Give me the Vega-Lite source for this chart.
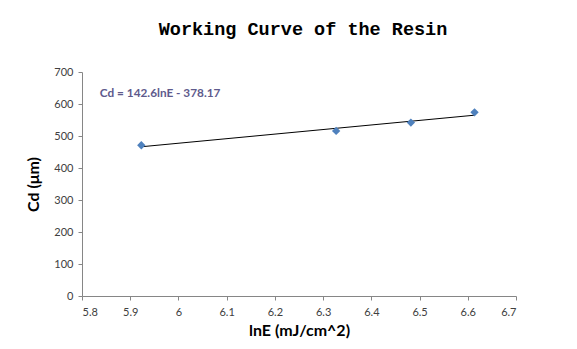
{
  "$schema": "https://vega.github.io/schema/vega-lite/v6.json",
  "autosize": "none",
  "width": 434,
  "height": 224,
  "padding": {"left": 82, "top": 72, "right": 61, "bottom": 53},
  "background": "white",
  "title": {
    "text": "Working Curve of the Resin",
    "font": "Liberation Mono",
    "fontSize": 18.5,
    "fontWeight": "bold",
    "color": "#000000",
    "anchor": "middle",
    "offset": 28,
    "dx": 4
  },
  "config": {
    "view": {"stroke": null},
    "axis": {
      "grid": false,
      "domainColor": "#868686",
      "tickColor": "#868686",
      "tickSize": 4,
      "labelFont": "Lato",
      "labelFontSize": 11,
      "labelColor": "#404040",
      "labelOverlap": false,
      "titleFont": "Lato",
      "titleFontSize": 16,
      "titleFontWeight": "bold",
      "titleColor": "#000000"
    }
  },
  "datasets": {
    "points": [
      {"lnE": 5.923, "Cd": 471},
      {"lnE": 6.327, "Cd": 516},
      {"lnE": 6.482, "Cd": 542},
      {"lnE": 6.614, "Cd": 574}
    ],
    "trend": [
      {"lnE": 5.923, "Cd": 466.4},
      {"lnE": 6.614, "Cd": 565.0}
    ],
    "label": [
      {"lnE": 5.837, "Cd": 635, "text": "Cd = 142.6lnE - 378.17"}
    ]
  },
  "encoding": {
    "x": {
      "field": "lnE", "type": "quantitative",
      "scale": {"domain": [5.8, 6.7], "nice": false, "zero": false},
      "axis": {"values": [5.8, 5.9, 6.0, 6.1, 6.2, 6.3, 6.4, 6.5, 6.6, 6.7], "format": "~f", "title": "lnE (mJ/cm^2)", "labelPadding": 6, "titlePadding": 5}
    },
    "y": {
      "field": "Cd", "type": "quantitative",
      "scale": {"domain": [0, 700], "nice": false},
      "axis": {"values": [0, 100, 200, 300, 400, 500, 600, 700], "tickCount": 8, "labelBound": false, "title": "Cd (μm)", "labelPadding": 5, "titlePadding": 12}
    }
  },
  "layer": [
    {
      "data": {"name": "trend"},
      "mark": {"type": "line", "color": "#000000", "strokeWidth": 1}
    },
    {
      "data": {"name": "points"},
      "mark": {"type": "point", "shape": "diamond", "filled": true, "color": "#4F81BD", "size": 70, "opacity": 1}
    },
    {
      "data": {"name": "label"},
      "mark": {"type": "text", "align": "left", "baseline": "middle", "font": "Lato", "fontSize": 11.8, "fontWeight": "bold", "color": "#5E5A8C"},
      "encoding": {
        "text": {"field": "text"}
      }
    }
  ]
}
